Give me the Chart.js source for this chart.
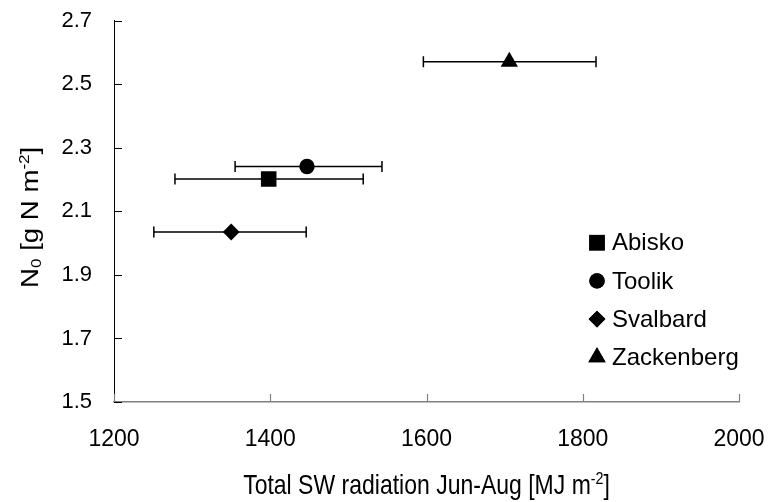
<!DOCTYPE html>
<html>
<head>
<meta charset="utf-8">
<script src="https://cdn.jsdelivr.net/npm/chart.js@4.4.1/dist/chart.umd.min.js"></script>
<style>
  html, body { margin: 0; padding: 0; background: #fff; }
  #wrap { width: 770px; height: 502px; }
</style>
</head>
<body>
<div id="wrap"><canvas id="c" width="770" height="502"></canvas></div>
<script>
// values
const sites = ['Abisko', 'Toolik', 'Svalbard', 'Zackenberg'];
const markers = ['rect', 'circle', 'rectRot', 'triangle'];
const markerSize = [11, 7.7, 8.4, 10];
const radiation = [1398, 1447, 1350, 1706];
const radLow = [1278, 1355, 1251, 1596];
const radHigh = [1519, 1543, 1446, 1817];
const n0 = [2.202, 2.241, 2.035, 2.571];
const xTicks = [1200, 1400, 1600, 1800, 2000];
const yTicks = [1.5, 1.7, 1.9, 2.1, 2.3, 2.5, 2.7];

const FONT = '"Liberation Sans", Arial, sans-serif';

const datasets = sites.map((s, i) => ({
  label: s,
  data: [{ x: radiation[i], y: n0[i], lo: radLow[i], hi: radHigh[i] }],
  pointStyle: markers[i],
  pointRadius: markerSize[i],
  pointHoverRadius: markerSize[i],
  backgroundColor: '#000',
  borderColor: '#000',
  borderWidth: 0
}));

// horizontal error bars, drawn under the markers
const errorBars = {
  id: 'errorBars',
  beforeDatasetsDraw(chart) {
    const { ctx, scales: { x, y } } = chart;
    ctx.save();
    ctx.strokeStyle = '#000';
    ctx.lineWidth = 1.5;
    chart.data.datasets.forEach(ds => {
      ds.data.forEach(p => {
        const py = y.getPixelForValue(p.y);
        const x1 = x.getPixelForValue(p.lo);
        const x2 = x.getPixelForValue(p.hi);
        ctx.beginPath();
        ctx.moveTo(x1, py); ctx.lineTo(x2, py);
        ctx.moveTo(x1, py - 5.5); ctx.lineTo(x1, py + 5.5);
        ctx.moveTo(x2, py - 5.5); ctx.lineTo(x2, py + 5.5);
        ctx.stroke();
      });
    });
    ctx.restore();
  }
};

// text with sub/superscript parts, centred on the current origin
function drawRich(ctx, parts, size) {
  let w = 0;
  parts.forEach(p => {
    ctx.font = (p.s ? size * 0.62 : size) + 'px ' + FONT;
    p.w = ctx.measureText(p.t).width;
    w += p.w;
  });
  let cx = -w / 2;
  parts.forEach(p => {
    ctx.font = (p.s ? size * 0.62 : size) + 'px ' + FONT;
    const dy = p.s === 'sup' ? -size * 0.38 : p.s === 'sub' ? size * 0.12 : 0;
    ctx.fillText(p.t, cx, dy);
    cx += p.w;
  });
}

// inward ticks, legend inside the plot, axis titles
const decorations = {
  id: 'decorations',
  afterDraw(chart) {
    const { ctx, chartArea: a, scales: { x, y } } = chart;
    ctx.save();
    ctx.lineWidth = 1;
    ctx.strokeStyle = '#000';
    yTicks.forEach(v => {
      const py = Math.round(y.getPixelForValue(v)) + 0.5;
      ctx.beginPath(); ctx.moveTo(a.left, py); ctx.lineTo(a.left + 8, py); ctx.stroke();
    });
    ctx.strokeStyle = '#808080';
    ctx.lineWidth = 1.2;
    xTicks.forEach(v => {
      const px = Math.round(x.getPixelForValue(v)) + 0.5;
      ctx.beginPath(); ctx.moveTo(px, a.bottom); ctx.lineTo(px, a.bottom - 8); ctx.stroke();
    });

    // legend
    ctx.fillStyle = '#000';
    ctx.textAlign = 'left';
    ctx.textBaseline = 'middle';
    const lx = a.left + 483, ly0 = a.top + 222, step = 38.2;
    chart.data.datasets.forEach((ds, i) => {
      const yy = ly0 + i * step;
      Chart.helpers.drawPoint(ctx, {
        pointStyle: ds.pointStyle, radius: ds.pointRadius, borderWidth: 0
      }, lx, yy);
      ctx.fill();
      ctx.font = '24px ' + FONT;
      ctx.fillText(ds.label, lx + 15, yy + 1);
    });

    // x title (the reference text is a little stretched vertically)
    ctx.textAlign = 'left';
    ctx.textBaseline = 'alphabetic';
    ctx.save();
    ctx.translate((a.left + a.right) / 2, 494);
    ctx.scale(1, 1.18);
    drawRich(ctx, [
      { t: 'Total SW radiation Jun-Aug [MJ m' }, { t: '-2', s: 'sup' }, { t: ']' }
    ], 23);
    ctx.restore();

    // y title
    ctx.save();
    ctx.translate(38, (a.top + a.bottom) / 2 + 6);
    ctx.rotate(-Math.PI / 2);
    ctx.scale(1.2, 1);
    drawRich(ctx, [
      { t: 'N' }, { t: '0', s: 'sub' }, { t: ' [g N m' }, { t: '-2', s: 'sup' }, { t: ']' }
    ], 23);
    ctx.restore();
    ctx.restore();
  }
};

function noPad(s) {
  s.paddingTop = 0; s.paddingBottom = 0; s.paddingLeft = 0; s.paddingRight = 0;
}

new Chart(document.getElementById('c'), {
  type: 'scatter',
  data: { datasets },
  options: {
    responsive: false,
    animation: false,
    layout: { padding: { top: 20.7, right: 31, left: 0, bottom: 0 } },
    plugins: { legend: { display: false }, tooltip: { enabled: false } },
    scales: {
      x: {
        type: 'linear', min: 1200, max: 2000,
        afterBuildTicks: s => { s.ticks = xTicks.map(v => ({ value: v })); },
        afterFit: s => { s.height = 100; noPad(s); },
        grid: { display: false, drawTicks: false },
        border: { display: true, color: '#808080', width: 1.5 },
        ticks: { color: '#000', font: { family: FONT, size: 23 }, padding: 24, maxRotation: 0,
          callback: v => String(v) }
      },
      y: {
        type: 'linear', min: 1.5, max: 2.7,
        afterBuildTicks: s => { s.ticks = yTicks.map(v => ({ value: v })); },
        afterFit: s => { s.width = 114; noPad(s); },
        grid: { display: false, drawTicks: false },
        border: { display: true, color: '#000', width: 1 },
        ticks: { color: '#000', font: { family: FONT, size: 22 }, padding: 22, callback: v => v.toFixed(1) }
      }
    }
  },
  plugins: [errorBars, decorations]
});
</script>
</body>
</html>
